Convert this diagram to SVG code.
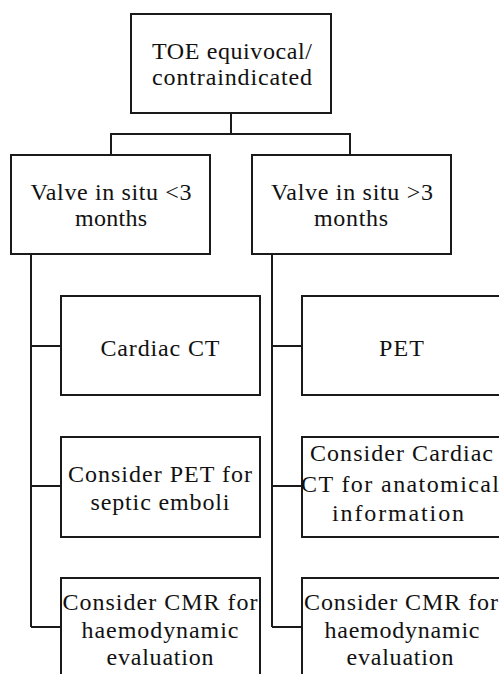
<svg xmlns="http://www.w3.org/2000/svg" width="499" height="674" viewBox="0 0 499 674">
<style>
.box{fill:#fff;stroke:#1a1a1a;stroke-width:2}
.con{fill:none;stroke:#1a1a1a;stroke-width:2}
.t{font-family:'Liberation Serif',serif;font-size:24px;fill:#111}
</style>
<rect width="499" height="674" fill="#fff"/>
<g id="connectors">
<path class="con" d="M231 113V134M111 155V134H350V155"/>
<path class="con" d="M31 254V627M31 346H61M31 486H61M31 627H61"/>
<path class="con" d="M272 254V627M272 346H302M272 486H302M272 627H302"/>
</g>
<g id="n-toe">
<rect class="box" x="131" y="14" width="200" height="99"/>
<text class="t" font-family="Liberation Serif" x="232" y="59" text-anchor="middle" textLength="160" lengthAdjust="spacing">TOE equivocal/</text>
<text class="t" font-family="Liberation Serif" x="232" y="85" text-anchor="middle" textLength="160" lengthAdjust="spacing">contraindicated</text>
</g>
<g id="n-lt3">
<rect class="box" x="11" y="155" width="199" height="99"/>
<text class="t" font-family="Liberation Serif" x="111" y="200" text-anchor="middle" textLength="161" lengthAdjust="spacing">Valve in situ &#60;3</text>
<text class="t" font-family="Liberation Serif" x="111" y="226" text-anchor="middle" textLength="72" lengthAdjust="spacing">months</text>
</g>
<g id="n-gt3">
<rect class="box" x="252" y="155" width="199" height="99"/>
<text class="t" font-family="Liberation Serif" x="352" y="200" text-anchor="middle" textLength="162" lengthAdjust="spacing">Valve in situ &#62;3</text>
<text class="t" font-family="Liberation Serif" x="351" y="226" text-anchor="middle" textLength="74" lengthAdjust="spacing">months</text>
</g>
<g id="n-cardiacct">
<rect class="box" x="61" y="296" width="199" height="99"/>
<text class="t" font-family="Liberation Serif" x="160" y="356" text-anchor="middle" textLength="119" lengthAdjust="spacing">Cardiac CT</text>
</g>
<g id="n-pet">
<rect class="box" x="302" y="296" width="199" height="99"/>
<text class="t" font-family="Liberation Serif" x="401.5" y="356" text-anchor="middle" textLength="45" lengthAdjust="spacing">PET</text>
</g>
<g id="n-petseptic">
<rect class="box" x="61" y="437" width="199" height="100"/>
<text class="t" font-family="Liberation Serif" x="160" y="482" text-anchor="middle" textLength="184" lengthAdjust="spacing">Consider PET for</text>
<text class="t" font-family="Liberation Serif" x="160" y="510" text-anchor="middle" textLength="139" lengthAdjust="spacing">septic emboli</text>
</g>
<g id="n-ctanat">
<rect class="box" x="302" y="437" width="199" height="100"/>
<text class="t" font-family="Liberation Serif" x="401.5" y="461" text-anchor="middle" textLength="183" lengthAdjust="spacing">Consider Cardiac</text>
<text class="t" font-family="Liberation Serif" x="400" y="492" text-anchor="middle" textLength="198" lengthAdjust="spacing">CT for anatomical</text>
<text class="t" font-family="Liberation Serif" x="398" y="521" text-anchor="middle" textLength="132" lengthAdjust="spacing">information</text>
</g>
<g id="n-cmr-left">
<rect class="box" x="61" y="578" width="199" height="120"/>
<text class="t" font-family="Liberation Serif" x="160" y="610" text-anchor="middle" textLength="195" lengthAdjust="spacing">Consider CMR for</text>
<text class="t" font-family="Liberation Serif" x="160" y="638" text-anchor="middle" textLength="157" lengthAdjust="spacing">haemodynamic</text>
<text class="t" font-family="Liberation Serif" x="160" y="665" text-anchor="middle" textLength="107" lengthAdjust="spacing">evaluation</text>
</g>
<g id="n-cmr-right">
<rect class="box" x="302" y="578" width="199" height="120"/>
<text class="t" font-family="Liberation Serif" x="401" y="610" text-anchor="middle" textLength="194" lengthAdjust="spacing">Consider CMR for</text>
<text class="t" font-family="Liberation Serif" x="402" y="638" text-anchor="middle" textLength="155" lengthAdjust="spacing">haemodynamic</text>
<text class="t" font-family="Liberation Serif" x="400" y="665" text-anchor="middle" textLength="107" lengthAdjust="spacing">evaluation</text>
</g>
</svg>
